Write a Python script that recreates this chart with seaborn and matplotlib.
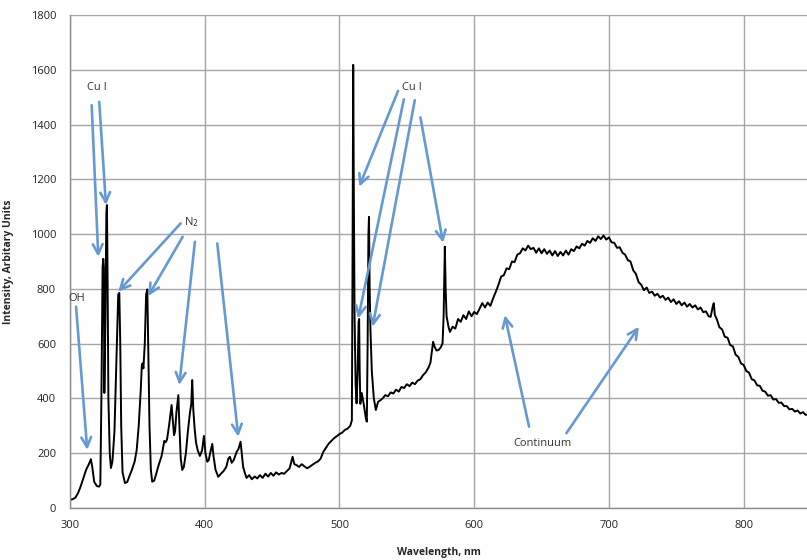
import matplotlib
matplotlib.use("Agg")
import matplotlib.pyplot as plt
import seaborn as sns
import pandas as pd
from matplotlib.ticker import MultipleLocator

# ---- data ----
wavelength = [
    300, 302, 304, 306, 308, 310, 312, 314, 315.5, 316.5, 318, 320, 321.5, 322.5,
    323.3, 324.2, 324.7, 325.1, 325.5, 326.3, 327.0, 327.4, 327.8, 328.5, 329.5, 330.4,
    331.5, 333, 334.5, 335.8, 336.6, 337.3, 338, 339, 340.8, 342.5, 344, 346, 348, 349.5,
    351, 352.5, 353.3, 353.8, 354.5, 355.5, 356.5, 357.4, 358, 359, 360, 361, 362.5, 364,
    366, 368, 370, 371, 372, 373.5, 375.4, 376.3, 377.2, 378, 379, 380.4, 381.2, 382.2,
    383.3, 384.5, 386, 387.5, 389, 390, 390.7, 391.5, 392.5, 393.5, 394.7, 396.4, 398,
    399.4, 400.5, 401.9, 403, 404, 405.6, 406.5, 408, 410, 412, 414, 416, 417.5, 418.7,
    420, 421.5, 423.7, 425, 426.6, 427.5, 428.5, 429.8, 431, 433, 435, 437, 439, 441, 443,
    445, 447, 449, 451, 453, 455, 457, 459, 461, 463, 465.2, 466.5, 468, 470, 472, 474,
    476, 478, 480, 482, 484, 486, 488, 490, 492, 494, 496, 498, 500, 502, 504, 506, 508,
    509.2, 509.7, 510.2, 510.6, 511.2, 512, 512.7, 513.5, 514.2, 514.6, 515, 515.5, 516.5,
    518, 519.5, 520.3, 520.9, 521.5, 521.9, 522.4, 523, 524, 525.5, 527, 528.7, 530, 532,
    534, 536, 538, 540, 542, 544, 546, 548, 550, 552, 554, 556, 558, 560, 562, 564, 566,
    567.5, 569.5, 570.5, 572, 573.5, 575, 576.5, 577.3, 578.2, 578.8, 579.5, 581, 582,
    584, 586, 588, 590, 592, 594, 596, 598, 600, 602, 604, 606, 608, 610, 612, 614, 616,
    618, 620, 622, 624, 626, 628, 630, 632, 634, 636, 638, 640, 642, 644, 646, 648, 650,
    652, 654, 656, 658, 660, 662, 664, 666, 668, 670, 672, 674, 676, 678, 680, 682, 684,
    686, 688, 690, 692, 694, 696, 698, 700, 702, 704, 706, 708, 710, 712, 714, 716, 718,
    720, 722, 724, 726, 728, 730, 732, 734, 736, 738, 740, 742, 744, 746, 748, 750, 752,
    754, 756, 758, 760, 762, 764, 766, 768, 770, 772, 774, 775.5, 777, 777.8, 778.6, 780,
    782, 784, 786, 788, 790, 792, 794, 796, 798, 800, 802, 804, 806, 808, 810, 812, 814,
    816, 818, 820, 822, 824, 826, 828, 830, 832, 834, 836, 838, 840, 842, 844, 846, 848,
]
intensity = [
    30, 32, 38, 55, 80, 110, 140, 160, 178, 150, 95, 80, 78, 85,
    400, 880, 910, 880, 420, 700, 1080, 1106, 900, 400, 200, 146,
    170, 280, 550, 780, 785, 600, 300, 130, 91, 95, 115, 140, 170, 212,
    300, 430, 520, 528, 510, 600, 780, 798, 620, 300, 140, 96, 100, 125,
    160, 190, 245, 240, 250, 300, 376, 320, 266, 280, 350, 412, 300, 180,
    139, 150, 200, 280, 347, 380, 467, 360, 290, 240, 212, 190, 210,
    263, 200, 169, 175, 200, 234, 190, 140, 114, 125, 135, 150, 180, 187,
    165, 175, 205, 215, 242, 200, 150, 128, 110, 120, 105, 115, 108, 120, 110,
    125, 115, 128, 118, 130, 122, 128, 125, 135, 145, 187, 160, 157, 150, 160, 152,
    145, 151, 158, 165, 170, 180, 205, 220, 235, 245, 255, 262, 270, 275, 285, 290, 300,
    320, 900, 1618, 1200, 700, 450, 382, 500, 680, 690, 500, 380, 420,
    380, 330, 315, 600, 1000, 1063, 800, 650, 500, 400, 358, 388, 392, 400,
    412, 408, 422, 418, 432, 425, 442, 438, 452, 445, 458, 452, 465, 470, 485, 495, 512,
    530, 607, 590, 575, 577, 585, 601, 700, 954, 800, 700, 660, 643,
    662, 655, 690, 680, 704, 690, 718, 700, 716, 708, 728, 748, 732, 750, 738, 765, 789,
    815, 845, 850, 875, 872, 900, 898, 925, 930, 948, 940, 958, 945, 950, 932, 948, 930,
    945, 928, 940, 922, 938, 920, 935, 922, 940, 925, 945, 938, 955, 948, 965, 958, 975,
    968, 985, 975, 992, 982, 995, 980, 988, 970, 968, 950, 952, 932, 925, 905, 900, 868,
    855, 825, 815, 795, 805, 785, 790, 775, 782, 768, 775, 760, 768, 752, 762, 745, 755,
    740, 750, 735, 745, 732, 740, 725, 732, 715, 718, 700, 698, 735, 748, 705, 690,
    660, 652, 625, 622, 595, 590, 560, 552, 528, 522, 500, 494, 470, 466, 448, 446, 428,
    425, 410, 412, 396, 398, 384, 385, 372, 372, 360, 362, 352, 356, 345, 350, 340, 342,
]

x_ticks = [300, 400, 500, 600, 700, 800]
y_ticks = [0, 200, 400, 600, 800, 1000, 1200, 1400, 1600, 1800]

# annotation labels: (text, x, y)
labels = [("Cu I", 320, 1536), ("N$_2$", 390, 1044), ("OH", 305, 766),
          ("Cu I", 554, 1536), ("Continuum", 651, 237)]
# arrows: (x_start, y_start, x_end, y_end)
arrows = [
    (316.1, 1471, 321.0, 917), (321.7, 1483, 326.7, 1106),
    (382.1, 1039, 335.8, 790), (383.6, 990, 358.1, 774),
    (392.7, 972, 381.1, 449), (409.3, 966, 424.9, 260),
    (304.5, 735, 312.8, 212),
    (543.5, 1523, 514.6, 1173), (547.8, 1492, 513.9, 692),
    (555.9, 1489, 524.6, 662), (560.1, 1426, 576.9, 968),
    (640.7, 297, 622.7, 704), (668.4, 273, 722.3, 662),
]

df = pd.DataFrame({"Wavelength": wavelength, "Intensity": intensity})

sns.set_style("white")
plt.rcParams["font.family"] = ["Open Sans", "DejaVu Sans"]

fig = plt.figure(figsize=(8.07, 5.6), dpi=100)
ax = fig.add_axes([70 / 807, 52 / 560, 737 / 807, 493 / 560])

sns.lineplot(data=df, x="Wavelength", y="Intensity", ax=ax, color="black",
             linewidth=1.4, sort=False, estimator=None)

ax.set_xlim(300, 847)
ax.set_ylim(0, 1800)
ax.set_xticks(x_ticks)
ax.set_yticks(y_ticks)
ax.xaxis.set_minor_locator(MultipleLocator(10))
ax.grid(True, which="major", color="#a6a6a6", linewidth=1.0)
ax.set_axisbelow(True)
for s in ["top", "right"]:
    ax.spines[s].set_visible(False)
for s in ["left", "bottom"]:
    ax.spines[s].set_color("#8c8c8c")
    ax.spines[s].set_linewidth(1.0)
ax.tick_params(axis="both", which="major", length=4, color="#8c8c8c",
               labelsize=8, labelcolor="#222222", pad=6, direction="out")
ax.tick_params(axis="x", which="minor", length=3, color="#8c8c8c", direction="in")
ax.tick_params(axis="x", which="major", direction="inout", length=6)

ax.set_xlabel("Wavelength, nm", fontsize=7.5, fontweight="bold", labelpad=11)
ax.set_ylabel("Intensity, Arbitary Units", fontsize=7.5, fontweight="bold", labelpad=12)

arrow_color = "#6699d4"
for x0, y0, x1, y1 in arrows:
    ax.annotate("", xy=(x1, y1), xytext=(x0, y0),
                arrowprops=dict(arrowstyle="->,head_length=0.7,head_width=0.35",
                                color=arrow_color, lw=1.9, shrinkA=0, shrinkB=0))
for t, x, y in labels:
    ax.text(x, y, t, fontsize=8, color="#333333", ha="center", va="center")

fig.savefig("out.png", dpi=100)
